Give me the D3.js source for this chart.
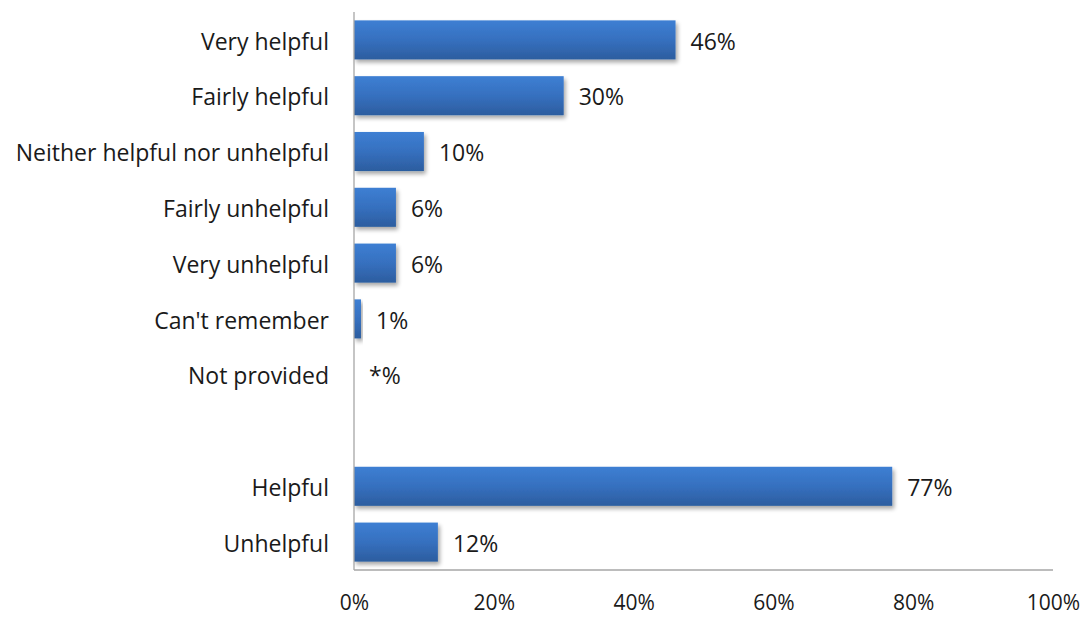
<!DOCTYPE html>
<html>
<head>
<meta charset="utf-8">
<script src="https://cdn.jsdelivr.net/npm/d3@7"></script>
<style>
  html, body { margin: 0; padding: 0; background: #fff; }
  svg { display: block; font-family: "Open Sans", Lato, sans-serif; }
</style>
</head>
<body>
<svg id="chart" width="1084" height="617"></svg>
<script>
// Response categories (blank entry leaves a gap before the summary rows)
const categories = ["Very helpful", "Fairly helpful", "Neither helpful nor unhelpful",
  "Fairly unhelpful", "Very unhelpful", "Can't remember", "Not provided", "",
  "Helpful", "Unhelpful"];
const values = [46, 30, 10, 6, 6, 1, 0, null, 77, 12];
const valueLabels = ["46%", "30%", "10%", "6%", "6%", "1%", "*%", "", "77%", "12%"];
const xTicks = [0, 20, 40, 60, 80, 100];

const svg = d3.select("#chart");
const margin = { left: 354, right: 31, top: 12, bottom: 47 };
const W = 1084, H = 617;
const FONT = "'Open Sans', Lato, sans-serif";
const FS = 23;
const TICK_FS = 21;

const x = d3.scaleLinear().domain([0, 100]).range([margin.left, W - margin.right]);
const y = d3.scaleBand().domain(categories.map((c, i) => i))
  .range([margin.top, H - margin.bottom]).paddingInner(0.3).paddingOuter(0.15);

const defs = svg.append("defs");
const grad = defs.append("linearGradient").attr("id", "barFill")
  .attr("x1", 0).attr("y1", 0).attr("x2", 0).attr("y2", 1);
grad.append("stop").attr("offset", "0%").attr("stop-color", "#3d7fd3");
grad.append("stop").attr("offset", "50%").attr("stop-color", "#3670bf");
grad.append("stop").attr("offset", "100%").attr("stop-color", "#2c5d9f");

const shadow = defs.append("filter").attr("id", "shadow")
  .attr("x", "-10%").attr("y", "-20%").attr("width", "130%").attr("height", "160%");
shadow.append("feGaussianBlur").attr("in", "SourceAlpha").attr("stdDeviation", 2);
shadow.append("feOffset").attr("dx", 2).attr("dy", 3).attr("result", "off");
shadow.append("feComponentTransfer").append("feFuncA").attr("type", "linear").attr("slope", 0.35);
const merge = shadow.append("feMerge");
merge.append("feMergeNode");
merge.append("feMergeNode").attr("in", "SourceGraphic");

const rows = categories.map((c, i) => ({ c, i, v: values[i], lab: valueLabels[i] }));

// bars
svg.append("g").selectAll("rect")
  .data(rows.filter(d => d.v !== null && d.v > 0))
  .join("rect")
  .attr("x", x(0))
  .attr("y", d => y(d.i))
  .attr("width", d => x(d.v) - x(0))
  .attr("height", y.bandwidth())
  .attr("fill", "url(#barFill)")
  .attr("filter", "url(#shadow)");

// value labels
svg.append("g").selectAll("text")
  .data(rows.filter(d => d.v !== null))
  .join("text")
  .attr("x", d => x(d.v) + 15)
  .attr("y", d => y(d.i) + y.bandwidth() / 2 + 1.5)
  .attr("dy", "0.36em")
  .attr("font-size", FS)
  .attr("font-family", FONT)
  .attr("fill", "#1a1a1a")
  .text(d => d.lab);

// category axis
const yAxis = svg.append("g").attr("transform", `translate(${x(0)},0)`)
  .call(d3.axisLeft(y).tickSize(0).tickPadding(25).tickFormat(i => categories[i]));
yAxis.select(".domain").attr("stroke", "#a6a6a6").attr("stroke-width", 1.3)
  .attr("d", `M0,${margin.top}V${H - margin.bottom}`);
yAxis.selectAll("text").attr("font-size", FS).attr("fill", "#1a1a1a")
  .attr("font-family", FONT).attr("dy", "0.36em").attr("y", 1.5);

// value axis
const xAxis = svg.append("g").attr("transform", `translate(0,${H - margin.bottom})`)
  .call(d3.axisBottom(x).tickValues(xTicks).tickSize(0).tickPadding(25).tickFormat(d => d + "%"));
xAxis.select(".domain").attr("stroke", "#a6a6a6").attr("stroke-width", 1.3)
  .attr("d", `M${x(0)},0H${x(100)}`);
xAxis.selectAll("text").attr("font-size", TICK_FS).attr("fill", "#1a1a1a")
  .attr("font-family", FONT);
</script>
</body>
</html>
